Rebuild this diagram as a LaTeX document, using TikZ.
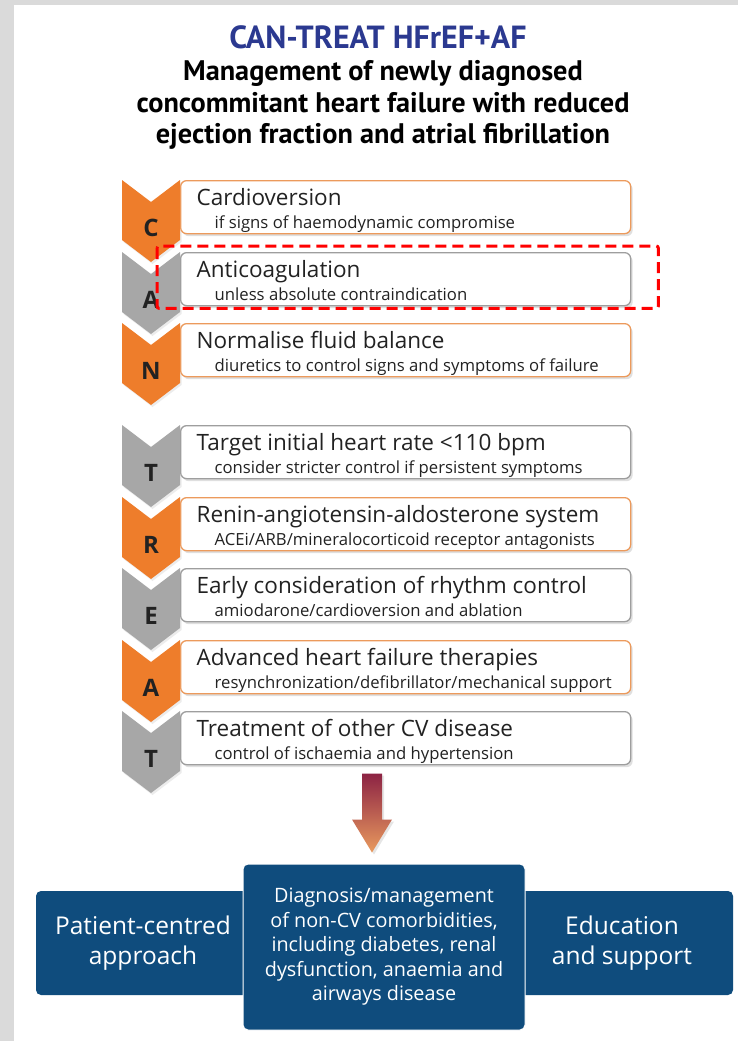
\documentclass[tikz,border=0pt]{standalone}
\usepackage{fontspec}
\setmainfont{Open Sans}
\newfontfamily\headfont{PT Sans}
\usetikzlibrary{positioning,calc,shadows}
\definecolor{cantblue}{HTML}{2B3990}
\definecolor{chevorange}{HTML}{EE7D2B}
\definecolor{chevgray}{HTML}{A7A7A7}
\definecolor{lineorange}{HTML}{EC9A5C}
\definecolor{linegray}{HTML}{9E9E9E}
\definecolor{boxnavy}{HTML}{0F4C7D}
\definecolor{arrowtop}{HTML}{8C2344}
\definecolor{arrowbot}{HTML}{E99A5E}
\definecolor{framegray}{HTML}{DADADA}
\definecolor{inktext}{HTML}{222222}
\newcommand{\natsp}{\spaceskip=0pt\xspaceskip=0pt\relax}
\newcommand{\cardsub}{\fontsize{16.7}{23}\selectfont\natsp\hspace*{18pt}}

\begin{document}
\begin{tikzpicture}[
    x=1pt, y=-1pt,
    card/.style={rectangle, draw=#1, line width=1.3pt, fill=white, rounded corners=6pt, anchor=north west, text width=418pt, inner xsep=16pt, inner ysep=3pt, minimum height=53pt, text height=20pt, text depth=24pt, align=left, text=inktext, font=\fontsize{22.5}{23}\selectfont, drop shadow={opacity=0.25, shadow xshift=2pt, shadow yshift=-2.5pt}},
    letter/.style={font=\fontsize{24}{24}\selectfont\bfseries, text=inktext},
    navybox/.style={rectangle, fill=boxnavy, rounded corners=5pt, text=white, align=center},
    hilite/.style={draw=red, line width=3pt, dash pattern=on 11pt off 6pt, rounded corners=2pt}
]
\useasboundingbox (0,0) rectangle (738,1041);
\fill[framegray] (0,0) rectangle (738,1041);
\fill[white] (14,5) rectangle (738,1041);

% Title
\node[font=\headfont\fontsize{32}{32}\selectfont\bfseries, text=cantblue] (head) at (378,37) {CAN-TREAT HFrEF+AF};
\node[font=\headfont\fontsize{28.3}{31.5}\selectfont\bfseries, align=center] (subhead) at (383,105) {Management of newly diagnosed\\concommitant heart failure with reduced\\ejection fraction and atrial fibrillation};

% Chevrons
\foreach \t/\col/\ltr/\nm in {180/chevorange/C/chc, 252/chevgray/A/cha, 323/chevorange/N/chn, 425/chevgray/T/cht, 497/chevorange/R/chr, 568/chevgray/E/che, 640/chevorange/A/chaa, 711/chevgray/T/chtt}{
  \fill[\col, drop shadow={opacity=0.15, shadow xshift=1.5pt, shadow yshift=-2pt}] (122,\t) -- (151,\t+22) -- (180,\t) -- (180,\t+60) -- (151,\t+82) -- (122,\t+60) -- cycle;
  \node[letter] (\nm) at (151,\t+48) {\ltr};
}

% Steps
\node[card=lineorange] (cardio) at (180,180) {\natsp Cardioversion\\\cardsub if signs of haemodynamic compromise};
\node[card=linegray] (anticoag) at (180,252) {\natsp Anticoagulation\\\cardsub unless absolute contraindication};
\node[card=lineorange] (fluid) at (180,323) {\natsp Normalise fluid balance\\\cardsub diuretics to control signs and symptoms of failure};
\node[card=linegray] (rate) at (180,425) {\natsp Target initial heart rate <110 bpm\\\cardsub consider stricter control if persistent symptoms};
\node[card=lineorange] (raas) at (180,497) {\natsp Renin-angiotensin-aldosterone system\\\cardsub ACEi/ARB/mineralocorticoid receptor antagonists};
\node[card=linegray] (rhythm) at (180,568) {\natsp Early consideration of rhythm control\\\cardsub amiodarone/cardioversion and ablation};
\node[card=lineorange] (advanced) at (180,640) {\natsp Advanced heart failure therapies\\\cardsub resynchronization/defibrillator/mechanical support};
\node[card=linegray] (cvdis) at (180,711) {\natsp Treatment of other CV disease\\\cardsub control of ischaemia and hypertension};

% Highlight
\draw[hilite] ($(anticoag.north west)+(-23,-6)$) rectangle ($(anticoag.south east)+(27,2)$);

% Bottom blocks
\node[navybox, minimum width=214pt, minimum height=104pt, font=\fontsize{24.5}{30}\selectfont] (patient) at (143,943) {Patient-centred\\approach};
\node[navybox, minimum width=222pt, minimum height=104pt, font=\fontsize{24.5}{30}\selectfont] (educ) at (622,943) {Education\\and support};
\node[navybox, minimum width=282pt, minimum height=166pt, font=\fontsize{19.8}{24.5}\selectfont, draw=white, line width=1pt] (comorb) at (384,947) {Diagnosis/management\\of non-CV comorbidities,\\including diabetes, renal\\dysfunction, anaemia and\\airways disease};

% Arrow
\coordinate (arrtip) at ($(comorb.north)+(-12,-11)$);
\coordinate (arrtop) at ($(arrtip)+(0,-79)$);
\shade[top color=arrowtop, bottom color=arrowbot, drop shadow={opacity=0.2, shadow xshift=2pt, shadow yshift=-2pt}] ($(arrtop)+(-10,0)$) -- ($(arrtop)+(10,0)$) -- ($(arrtip)+(10,-33)$) -- ($(arrtip)+(20,-33)$) -- (arrtip) -- ($(arrtip)+(-20,-33)$) -- ($(arrtip)+(-10,-33)$) -- cycle;

\end{tikzpicture}
\end{document}
